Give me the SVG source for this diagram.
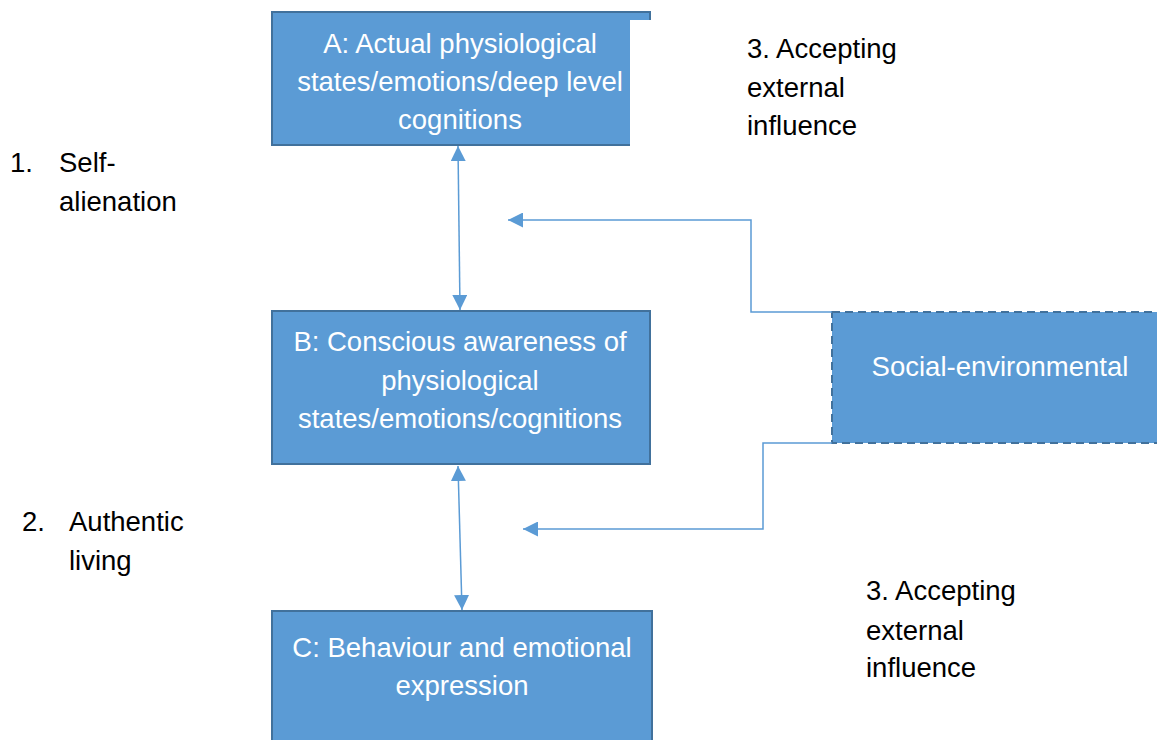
<svg xmlns="http://www.w3.org/2000/svg" width="1157" height="740" viewBox="0 0 1157 740">
<style>
.box{fill:#5B9BD5;stroke:#41719C;stroke-width:2}
.dash{fill:#5B9BD5;stroke:#41719C;stroke-width:2;stroke-dasharray:8,5}
.wt{font-family:"Liberation Sans",Arial,sans-serif;font-size:27.5px;fill:#FFFFFF;text-anchor:middle}
.bt{font-family:"Liberation Sans",Arial,sans-serif;font-size:27.5px;fill:#000000}
.con{fill:none;stroke:#5B9BD5;stroke-width:1.5}
</style>
<defs>
<marker id="ah2" viewBox="0 0 10 10" refX="10" refY="5" markerWidth="15" markerHeight="15" markerUnits="userSpaceOnUse" orient="auto-start-reverse">
<path d="M0,0 L10,5 L0,10 Z" fill="#5B9BD5"/>
</marker>
</defs>
<rect width="1157" height="740" fill="#FFFFFF"/>
<g id="nodeA">
<rect class="box" x="272" y="12" width="378" height="133"/>
<rect x="630" y="20" width="22" height="127" fill="#FFFFFF"/>
<text class="wt" x="460" y="53">A: Actual physiological</text>
<text class="wt" x="460" y="91">states/emotions/deep level</text>
<text class="wt" x="460" y="129">cognitions</text>
</g>
<g id="nodeB">
<rect class="box" x="272" y="311" width="378" height="153"/>
<text class="wt" x="460" y="351">B: Conscious awareness of</text>
<text class="wt" x="460" y="390">physiological</text>
<text class="wt" x="460" y="428">states/emotions/cognitions</text>
</g>
<g id="nodeC">
<rect class="box" x="272" y="611" width="380" height="140"/>
<text class="wt" x="462" y="657">C: Behaviour and emotional</text>
<text class="wt" x="462" y="695">expression</text>
</g>
<g id="nodeSocial">
<rect class="dash" x="832" y="312" width="340" height="131"/>
<text class="wt" x="1000" y="376">Social-environmental</text>
</g>
<g id="labels">
<text class="bt" x="10" y="172">1.</text>
<text class="bt" x="59" y="172">Self-</text>
<text class="bt" x="59" y="211">alienation</text>
<text class="bt" x="22" y="531">2.</text>
<text class="bt" x="69" y="531">Authentic</text>
<text class="bt" x="69" y="570">living</text>
<text class="bt" x="747" y="58">3. Accepting</text>
<text class="bt" x="747" y="97">external</text>
<text class="bt" x="747" y="135">influence</text>
<text class="bt" x="866" y="600">3. Accepting</text>
<text class="bt" x="866" y="640">external</text>
<text class="bt" x="866" y="677">influence</text>
</g>
<g id="connectors">
<path class="con" d="M458,146 L460,310" marker-start="url(#ah2)" marker-end="url(#ah2)"/>
<path class="con" d="M458,466 L462,610" marker-start="url(#ah2)" marker-end="url(#ah2)"/>
<path class="con" d="M832,312 L751,312 L751,220 L508,220" marker-end="url(#ah2)"/>
<path class="con" d="M832,443 L763,443 L763,529 L523,529" marker-end="url(#ah2)"/>
</g>
</svg>
